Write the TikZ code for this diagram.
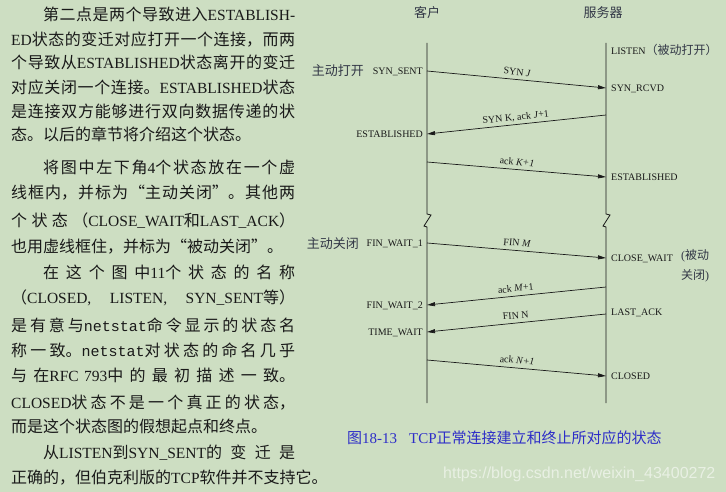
\documentclass[tikz,border=0pt]{standalone}
\usepackage{fontspec}
\setmainfont{Noto Sans CJK SC}
\newfontfamily\latf{Liberation Serif}
\newfontfamily\monof{Liberation Mono}
\newfontfamily\sansf{Liberation Sans}
\usetikzlibrary{arrows.meta}
\XeTeXlinebreaklocale "zh"
\XeTeXlinebreakskip=0pt plus 8pt minus 1pt
\definecolor{bg}{RGB}{205,222,194}
\definecolor{capblue}{RGB}{45,45,200}
\definecolor{ink}{RGB}{25,25,25}
\definecolor{note}{RGB}{50,55,70}
\newcommand\EN[1]{{\latf\fontsize{15.5pt}{20pt}\selectfont #1}}
\newcommand\TT[1]{{\monof\fontsize{15pt}{20pt}\selectfont #1}}
\newcommand\bodyfont{\fontsize{16pt}{20pt}\selectfont}
\newcommand\jline[4]{\node[bodyline] at (#1,#2) {\parbox[b]{#3pt}{\tolerance=10000\hbadness=10000\parfillskip=0pt\parindent=0pt\relax #4\par}};}
\newcommand\nline[3]{\node[bodyline] at (#1,#2) {#3};}
\tikzset{
  bodyline/.style={anchor=base west, inner sep=0pt, font=\bodyfont, text=ink},
  life/.style={draw=ink, line width=0.8pt},
  msg/.style={draw=ink, line width=0.7pt, -{Triangle[length=8pt,width=4pt]}},
  lbl/.style={font=\latf\fontsize{10pt}{12pt}\selectfont, text=ink, sloped, above=3pt, inner sep=1pt, text height=6.6pt, text depth=0pt},
  stl/.style={font=\latf\fontsize{10pt}{12pt}\selectfont, text=ink, inner sep=0pt, anchor=base east},
  str/.style={font=\latf\fontsize{10pt}{12pt}\selectfont, text=ink, inner sep=0pt, anchor=base west},
  cjkl/.style={font=\fontsize{13pt}{16pt}\selectfont, text=note, inner sep=0pt, anchor=base east},
  title/.style={font=\fontsize{13pt}{16pt}\selectfont, text=note, inner sep=0pt, anchor=base}
}
\begin{document}
\begin{tikzpicture}[x=1pt,y=-1pt]
\path[fill=bg] (0,0) rectangle (726,492);
\useasboundingbox (0,0) rectangle (726,492);
% ---------- left text ----------
\jline{43}{21}{252}{第二点是两个导致进入\EN{ESTABLISH-}}
\jline{11}{46}{284}{\EN{ED}状态的变迁对应打开一个连接，而两}
\jline{11}{69}{284}{个导致从\EN{ESTABLISHED}状态离开的变迁}
\jline{11}{94}{284}{对应关闭一个连接。\EN{ESTABLISHED}状态}
\jline{11}{118}{284}{是连接双方能够进行双向数据传递的状}
\nline{11}{141}{态。以后的章节将介绍这个状态。}
\jline{43}{174}{252}{将图中左下角\EN{4}个状态放在一个虚}
\jline{11}{199}{284}{线框内，并标为“主动关闭”。其他两}
\jline{11}{226}{284}{个状态（\EN{CLOSE\_WAIT}和\EN{LAST\_ACK}）}
\nline{11}{252}{也用虚线框住，并标为“被动关闭”。}
\jline{43}{278}{252}{在这个图中\EN{11}个状态的名称}
\jline{11}{303}{284}{（\EN{CLOSED, LISTEN, SYN\_SENT}等）}
\jline{11}{331}{284}{是有意与\TT{netstat}命令显示的状态名}
\jline{11}{356}{284}{称一致。\TT{netstat}对状态的命名几乎}
\jline{11}{381}{284}{与在\EN{RFC 793}中的最初描述一致。}
\jline{11}{408}{284}{\EN{CLOSED}状态不是一个真正的状态，}
\nline{11}{432}{而是这个状态图的假想起点和终点。}
\jline{43}{458}{252}{从\EN{LISTEN}到\EN{SYN\_SENT}的变迁是}
\nline{11}{483}{正确的，但伯克利版的\EN{TCP}软件并不支持它。}
% ---------- diagram ----------
\node[title] (tc) at (427,18) {客户};
\node[title] (ts) at (603,18) {服务器};
% lifelines
\coordinate (ctop) at (427,43);
\coordinate (cb1) at (427,214);
\coordinate (cb2) at (431,215);
\coordinate (cb3) at (424,226);
\coordinate (cb4) at (427,227);
\coordinate (cbot) at (427,403);
\coordinate (stop) at (606,43);
\coordinate (sb1) at (606,214);
\coordinate (sb2) at (610,215);
\coordinate (sb3) at (603,226);
\coordinate (sb4) at (606,227);
\coordinate (sbot) at (606,403);
\draw[life] (ctop) -- (cb1) -- (cb2) -- (cb3) -- (cb4) -- (cbot);
\draw[life] (stop) -- (sb1) -- (sb2) -- (sb3) -- (sb4) -- (sbot);
% message endpoints
\coordinate (c1) at (427,71);  \coordinate (s1) at (606,88);
\coordinate (s2) at (606,115); \coordinate (c2) at (427,134);
\coordinate (c3) at (427,162); \coordinate (s3) at (606,177);
\coordinate (c4) at (427,243); \coordinate (s4) at (606,258);
\coordinate (s5) at (606,287); \coordinate (c5) at (427,305);
\coordinate (s6) at (606,314); \coordinate (c6) at (427,332);
\coordinate (c7) at (427,360); \coordinate (s7) at (606,376);
\draw[msg] (c1) -- node[lbl] {SYN \textit{J}} (s1);
\draw[msg] (s2) -- node[lbl] {SYN K, ack \textit{J}+1} (c2);
\draw[msg] (c3) -- node[lbl] {ack \textit{K+1}} (s3);
\draw[msg] (c4) -- node[lbl] {FIN \textit{M}} (s4);
\draw[msg] (s5) -- node[lbl] {ack \textit{M}+1} (c5);
\draw[msg] (s6) -- node[lbl] {FIN N} (c6);
\draw[msg] (c7) -- node[lbl] {ack \textit{N+1}} (s7);
% client states
\node[cjkl] (ao) at (364,76) {主动打开};
\node[stl] (synsent) at (423,74.5) {SYN\_SENT};
\node[stl] (cest) at (423,137.5) {ESTABLISHED};
\node[cjkl] (ac) at (359,248) {主动关闭};
\node[stl] (fw1) at (423,246.5) {FIN\_WAIT\_1};
\node[stl] (fw2) at (423,308.5) {FIN\_WAIT\_2};
\node[stl] (tw) at (423,335.5) {TIME\_WAIT};
% server states
\node[str] (listen) at (611,54.5) {LISTEN{\rmfamily\color{note}\fontsize{12pt}{14pt}\selectfont （被动打开）}};
\node[str] (rcvd) at (611,91.5) {SYN\_RCVD};
\node[str] (sest) at (611,180.5) {ESTABLISHED};
\node[str] (cw) at (611,261.5) {CLOSE\_WAIT};
\node[anchor=base west, inner sep=0pt, text=note, font=\fontsize{12pt}{14pt}\selectfont] (pc1) at (681,259.5) {{\latf(}被动};
\node[anchor=base west, inner sep=0pt, text=note, font=\fontsize{12pt}{14pt}\selectfont] (pc2) at (681,279.5) {关闭{\latf)}};
\node[str] (la) at (611,315.5) {LAST\_ACK};
\node[str] (cl) at (611,379.5) {CLOSED};
% caption
\node[anchor=base west, inner sep=0pt, text=capblue, font=\fontsize{15pt}{18pt}\selectfont] (cap) at (347,443)
  {图{\latf 18-13}\hspace{12pt}{\latf TCP}正常连接建立和终止所对应的状态};
% watermark
\node[anchor=base west, inner sep=0pt, text=white, opacity=0.55, font=\sansf\fontsize{16pt}{18pt}\selectfont] (wm) at (443,478.5)
  {https://blog.csdn.net/weixin\_43400272};
\end{tikzpicture}
\end{document}
